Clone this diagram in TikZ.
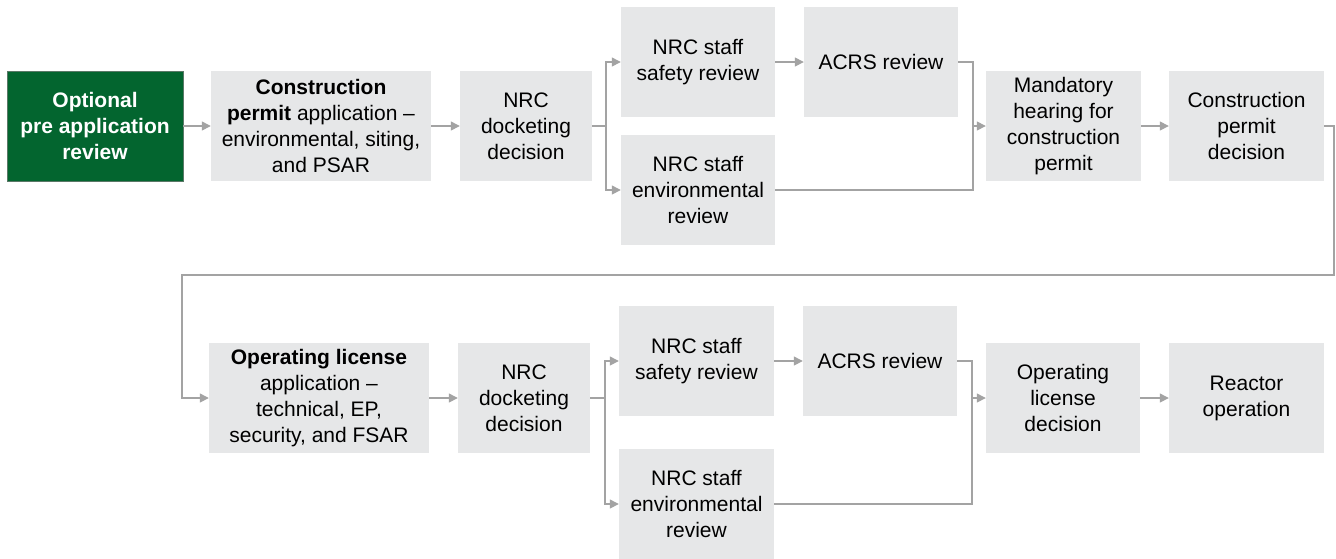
\documentclass[tikz,border=0pt]{standalone}
\usepackage{fontspec}
\setmainfont{Liberation Sans}
\usetikzlibrary{arrows.meta}
\definecolor{boxgray}{HTML}{E6E7E8}
\definecolor{darkgreen}{HTML}{03652F}
\definecolor{linegray}{HTML}{A3A3A3}
\tikzset{
  box/.style={fill=boxgray, inner sep=0pt, align=center, minimum height=110pt,
    font=\fontsize{21}{26}\selectfont, text=black},
  greenbox/.style={box, fill=darkgreen, draw=gray!70!darkgreen, line width=0.8pt, text=white,
    font=\fontsize{21}{26}\selectfont\bfseries},
  conn/.style={draw=linegray, line width=1.4pt},
  arr/.style={conn, -{Triangle[length=9pt,width=9pt]}},
}
\begin{document}
\begin{tikzpicture}[x=1pt,y=-1pt]
\useasboundingbox (0,0) rectangle (1336,558);
% row 1
\node[greenbox, minimum width=176pt] (opt) at (95,126) {Optional\\pre application\\review};
\node[box, minimum width=220pt] (cpapp) at (321,126) {\textbf{Construction}\\\textbf{permit} application --\\environmental, siting,\\and PSAR};
\node[box, minimum width=132pt] (dock1) at (526,126) {NRC\\docketing\\decision};
\node[box, minimum width=154pt] (safe1) at (698,62) {NRC staff\\safety review};
\node[box, minimum width=154pt] (env1) at (698,190) {NRC staff\\environmental\\review};
\node[box, minimum width=154pt] (acrs1) at (881,62) {ACRS review};
\node[box, minimum width=155pt] (mand) at (1063.5,126) {Mandatory\\hearing for\\construction\\permit};
\node[box, minimum width=155pt] (cpdec) at (1246.5,126) {Construction\\permit\\decision};
% row 2
\node[box, minimum width=220pt] (olapp) at (319,398) {\textbf{Operating license}\\application --\\technical, EP,\\security, and FSAR};
\node[box, minimum width=132pt] (dock2) at (524,398) {NRC\\docketing\\decision};
\node[box, minimum width=155pt] (safe2) at (696.5,361) {NRC staff\\safety review};
\node[box, minimum width=155pt] (env2) at (696.5,504) {NRC staff\\environmental\\review};
\node[box, minimum width=154pt] (acrs2) at (880,361) {ACRS review};
\node[box, minimum width=154pt] (oldec) at (1063,398) {Operating\\license\\decision};
\node[box, minimum width=155pt] (reactor) at (1246.5,398) {Reactor\\operation};
% junction coordinates
\coordinate (b1) at (606,126);
\coordinate (m1) at (973,126);
\coordinate (l1) at (1334,275);
\coordinate (l2) at (182,275);
\coordinate (b2) at (605,398);
\coordinate (m2) at (972,398);
% row 1 connectors
\draw[arr] (opt.east) -- (cpapp.west);
\draw[arr] (cpapp.east) -- (dock1.west);
\draw[conn] (dock1.east) -- (b1);
\draw[arr] (b1) |- (safe1.west);
\draw[arr] (b1) |- (env1.west);
\draw[arr] (safe1.east) -- (acrs1.west);
\draw[conn] (acrs1.east) -| (m1);
\draw[conn] (env1.east) -| (m1);
\draw[arr] (m1) -- (mand.west);
\draw[arr] (mand.east) -- (cpdec.west);
% loop
\draw[arr] (cpdec.east) -| (l1) -- (l2) |- (olapp.west);
% row 2 connectors
\draw[arr] (olapp.east) -- (dock2.west);
\draw[conn] (dock2.east) -- (b2);
\draw[arr] (b2) |- (safe2.west);
\draw[arr] (b2) |- (env2.west);
\draw[arr] (safe2.east) -- (acrs2.west);
\draw[conn] (acrs2.east) -| (m2);
\draw[conn] (env2.east) -| (m2);
\draw[arr] (m2) -- (oldec.west);
\draw[arr] (oldec.east) -- (reactor.west);
\end{tikzpicture}
\end{document}
